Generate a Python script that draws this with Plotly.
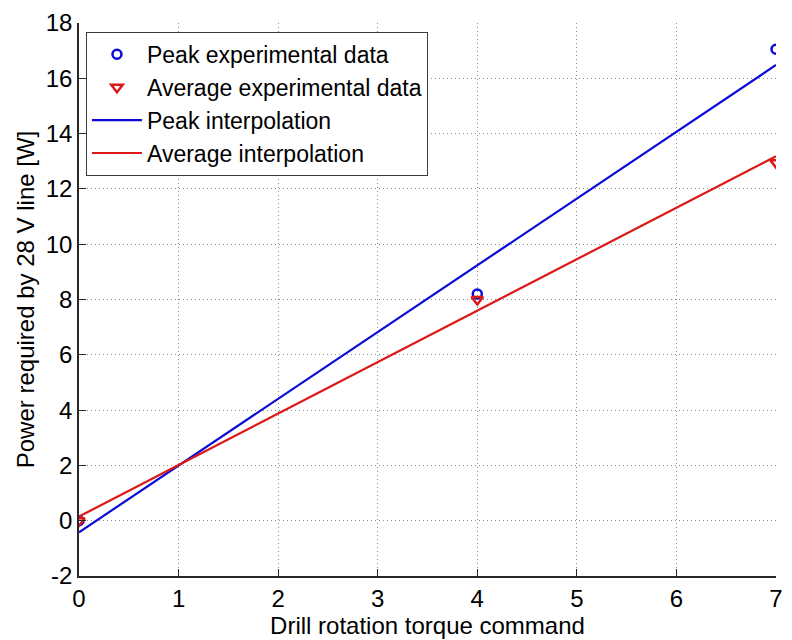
import plotly.graph_objects as go

torque = [0, 4, 7]
peak_power = [0.0, 8.2, 17.05]
avg_power = [0.0, 8.0, 12.95]

fit_x = [0, 7]
peak_fit = [-0.42, 16.48]
avg_fit = [0.15, 13.18]

x_ticks = [0, 1, 2, 3, 4, 5, 6, 7]
x_ticklabels = ["0", "1", "2", "3", "4", "5", "6", "7"]
y_ticks = [-2, 0, 2, 4, 6, 8, 10, 12, 14, 16, 18]
y_ticklabels = ["-2", "0", "2", "4", "6", "8", "10", "12", "14", "16", "18"]

blue = "rgb(10,10,215)"
red = "rgb(220,25,25)"
font_family = "Liberation Sans, Arial, sans-serif"

fig = go.Figure()
fig.add_trace(go.Scatter(x=torque, y=peak_power, mode="markers",
                         name="Peak experimental data",
                         marker=dict(symbol="circle-open", size=9, color=blue, line=dict(width=2.5, color=blue))))
fig.add_trace(go.Scatter(x=torque, y=avg_power, mode="markers",
                         name="Average experimental data",
                         marker=dict(symbol="triangle-down-open", size=10, color=red, line=dict(width=2.5, color=red))))
fig.add_trace(go.Scatter(x=fit_x, y=peak_fit, mode="lines", name="Peak interpolation",
                         line=dict(color=blue, width=2.2)))
fig.add_trace(go.Scatter(x=fit_x, y=avg_fit, mode="lines", name="Average interpolation",
                         line=dict(color=red, width=2.2)))

axis_common = dict(
    showgrid=True, gridcolor="rgb(140,140,140)", griddash="1px,3px", gridwidth=1,
    showline=True, linecolor="rgb(40,40,40)", linewidth=1.5,
    ticks="inside", ticklen=7, tickcolor="rgb(40,40,40)",
    zeroline=False, mirror=False,
    tickfont=dict(family=font_family, size=24, color="black"),
    title_font=dict(family=font_family, size=24, color="black"),
)

fig.update_layout(
    width=792, height=640,
    margin=dict(l=79, r=9, t=20, b=64),
    paper_bgcolor="white", plot_bgcolor="white",
    font=dict(family=font_family, color="black"),
    xaxis=dict(range=[0, 7], tickmode="array", tickvals=x_ticks, ticktext=x_ticklabels,
               title=dict(text="Drill rotation torque command", standoff=2), **axis_common),
    yaxis=dict(range=[-2, 18], tickmode="array", tickvals=y_ticks, ticktext=y_ticklabels,
               title=dict(text="Power required by 28 V line [W]", standoff=4), **axis_common),
    legend=dict(x=0.01, y=0.984, xanchor="left", yanchor="top",
                bgcolor="white", bordercolor="rgb(60,60,60)", borderwidth=1,
                font=dict(family=font_family, size=23, color="black"),
                itemwidth=50, tracegroupgap=0),
    showlegend=True,
)

fig.write_html("out.html")
